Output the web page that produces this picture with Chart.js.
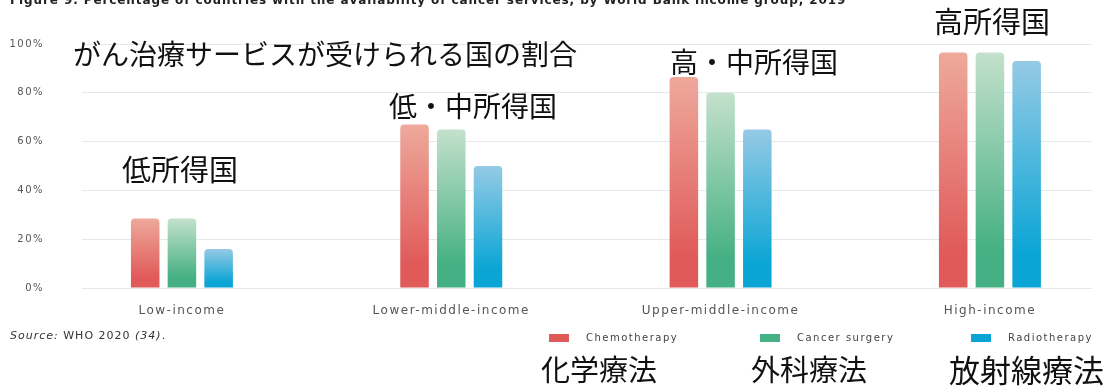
<!DOCTYPE html>
<html><head><meta charset="utf-8">
<script src="https://cdn.jsdelivr.net/npm/chart.js@4"></script>
<style>
html,body{margin:0;padding:0;background:#fff;}
#wrap{position:relative;width:1115px;height:387px;overflow:hidden;}
canvas{position:absolute;left:0;top:0;}
.t{position:absolute;white-space:nowrap;}
.jp{font-family:"Noto Sans CJK JP";color:#111;line-height:1;}
#title{left:10px;top:-6px;font-family:"DejaVu Sans";font-weight:bold;font-size:12px;letter-spacing:0.9px;line-height:1;color:#222;}
#source{left:10px;top:330px;font-family:"DejaVu Sans";font-size:11px;letter-spacing:1px;line-height:1;color:#333;}
#legend{position:absolute;left:549px;top:333px;display:flex;}
.li{width:211px;display:flex;align-items:center;font-family:"DejaVu Sans";font-size:10px;letter-spacing:1.5px;color:#444;line-height:10px;}
.lb{width:20px;height:8px;margin-right:17px;}
</style></head>
<body><div id="wrap">
<canvas id="c" width="1115" height="387"></canvas>
<div class="t" id="title">Figure 9. Percentage of countries with the availability of cancer services, by World Bank income group, 2019</div>
<div class="t" id="source"><i>Source:</i> WHO 2020 <i>(34)</i>.</div>
<div id="legend"></div>
<div class="t jp" style="left:73px;top:39px;font-size:28px;">がん治療サービスが受けられる国の割合</div>
<div class="t jp" style="left:122px;top:154px;font-size:29px;">低所得国</div>
<div class="t jp" style="left:389px;top:91px;font-size:28px;">低・中所得国</div>
<div class="t jp" style="left:670px;top:47px;font-size:28px;">高・中所得国</div>
<div class="t jp" style="left:934px;top:6px;font-size:29px;">高所得国</div>
<div class="t jp" style="left:541px;top:354px;font-size:29px;">化学療法</div>
<div class="t jp" style="left:751px;top:354px;font-size:29px;">外科療法</div>
<div class="t jp" style="left:949px;top:353px;font-size:31px;">放射線療法</div>
</div>
<script>
const categories = ['Low-income', 'Lower-middle-income', 'Upper-middle-income', 'High-income'];
const seriesNames = ['Chemotherapy', 'Cancer surgery', 'Radiotherapy'];
const chemotherapy = [28.5, 67, 86.5, 96.5];
const cancerSurgery = [28.5, 65, 80, 96.5];
const radiotherapy = [16, 50, 65, 93];
const yTicks = [0, 20, 40, 60, 80, 100];

const palette = [
  {light: '#eea99b', dark: '#e05a5a'},
  {light: '#c4e1cc', dark: '#45b083'},
  {light: '#95cae5', dark: '#0aa5d5'}
];

function barGradient(light, dark) {
  return (c) => {
    const chart = c.chart;
    if (!chart.chartArea || !c.parsed) return dark;
    const ys = chart.scales.y;
    const top = ys.getPixelForValue(c.parsed.y);
    const base = ys.getPixelForValue(0);
    if (!isFinite(top) || !isFinite(base) || top === base) return dark;
    const g = chart.ctx.createLinearGradient(0, top, 0, base);
    g.addColorStop(0, light);
    g.addColorStop(0.85, dark);
    g.addColorStop(1, dark);
    return g;
  };
}

const seriesValues = [chemotherapy, cancerSurgery, radiotherapy];
const datasets = seriesValues.map((vals, i) => ({
  label: seriesNames[i],
  data: vals,
  backgroundColor: barGradient(palette[i].light, palette[i].dark),
  borderWidth: 0,
  borderRadius: 4,
  categoryPercentage: 0.409,
  barPercentage: 0.777
}));

const spacing = {
  id: 'spacing',
  beforeLayout(chart) { chart.ctx.letterSpacing = '1.5px'; },
  beforeDraw(chart) { chart.ctx.letterSpacing = '1.5px'; }
};

const chart = new Chart(document.getElementById('c'), {
  type: 'bar',
  data: { labels: categories.map((_, i) => i), datasets },
  options: {
    responsive: false,
    animation: false,
    layout: { padding: { top: 42, right: 23, bottom: 69, left: 0 } },
    plugins: { legend: { display: false }, tooltip: { enabled: false } },
    scales: {
      x: {
        type: 'linear',
        offset: false,
        min: -0.371,
        max: 3.379,
        afterBuildTicks: (s) => { s.ticks = categories.map((_, i) => ({ value: i })); },
        afterFit: (s) => { s.height = 30; },
        grid: { display: false, drawTicks: false },
        border: { display: false },
        ticks: {
          padding: 16,
          maxRotation: 0,
          autoSkip: false,
          color: '#555',
          font: { family: 'DejaVu Sans', size: 12 },
          callback: (v) => categories[v]
        }
      },
      y: {
        min: 0,
        max: 100,
        afterFit: (s) => { s.width = 82; },
        afterBuildTicks: (s) => { s.ticks = yTicks.map(v => ({ value: v })); },
        grid: { color: '#e2eaec', drawTicks: false, lineWidth: 1 },
        border: { display: false },
        ticks: {
          padding: 38,
          color: '#555',
          font: { family: 'DejaVu Sans', size: 10 },
          callback: (v) => v + '%'
        }
      }
    }
  },
  plugins: [spacing]
});

const legend = document.getElementById('legend');
chart.data.datasets.forEach((ds, i) => {
  const item = document.createElement('div');
  item.className = 'li';
  const box = document.createElement('span');
  box.className = 'lb';
  box.style.background = palette[i].dark;
  const txt = document.createElement('span');
  txt.textContent = ds.label;
  item.appendChild(box);
  item.appendChild(txt);
  legend.appendChild(item);
});
</script>
</body></html>
